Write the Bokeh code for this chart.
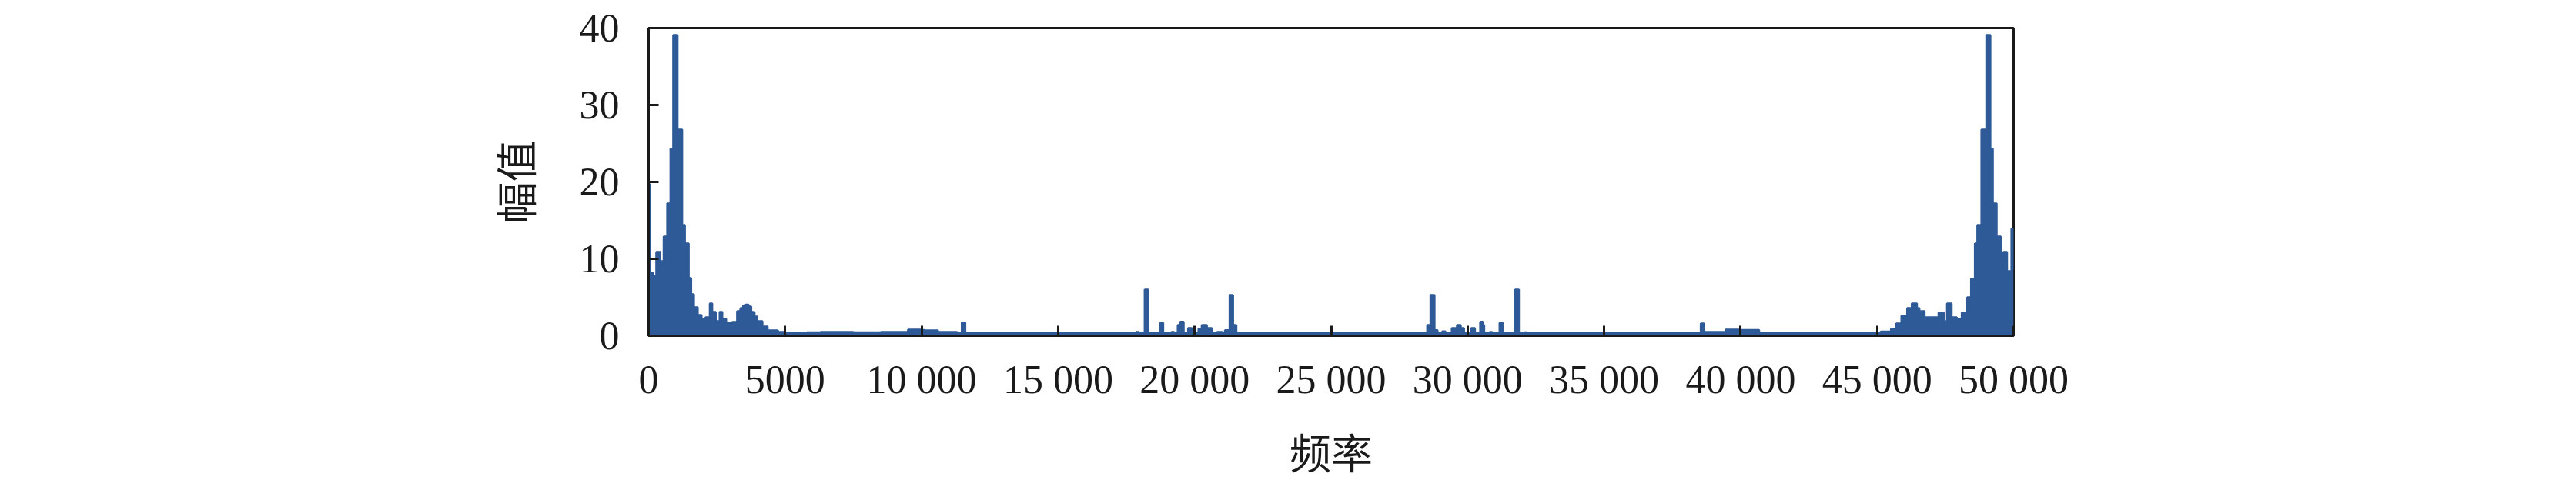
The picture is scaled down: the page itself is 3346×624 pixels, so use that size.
from bokeh.plotting import figure
from bokeh.models import Range1d, FixedTicker
from bokeh.embed import file_html
from bokeh.resources import INLINE

# spectrum: bin start frequency -> magnitude (step after)
freq = [0, 50, 150, 280, 430, 550, 680, 800, 900, 1060, 1230, 1330, 1470, 1560,
        1660, 1800, 1940, 2080, 2240, 2330, 2460, 2600, 2700, 2840, 3060, 3240,
        3360, 3460, 3550, 3660, 3760, 3880, 3980, 4170, 4360, 4740,
        5000, 5800, 6300, 7500, 8500, 9500, 10000, 10100, 10600, 11300, 11470,
        11600, 17850, 17950, 18170, 18300, 18740, 18850, 19150, 19250, 19380,
        19470, 19600, 19760, 19900, 20140, 20260, 20450, 20630, 20820, 21010,
        21110, 21280, 21410, 21530,
        28520, 28640, 28790, 28900, 29070, 29190, 29420, 29610, 29750, 29870,
        30130, 30270, 30460, 30560, 30610, 30810, 30900, 31170, 31290, 31740,
        31880, 32080, 32180, 38540, 38660, 39450, 40000, 40680, 45130, 45510,
        45700, 45890, 46100, 46270, 46460, 46550, 46740, 47250, 47440, 47560,
        47730, 47920, 48100, 48300, 48440, 48580, 48670, 48820, 49000, 49150,
        49240, 49380, 49530, 49620, 49760, 49920, 49980, 50000]
amp = [19.7, 8.2, 7.8, 10.9, 9.7, 12.9, 17.2, 24.3, 39.1, 26.8, 14.4, 12.0, 7.5, 5.4,
       3.7, 2.7, 2.2, 2.4, 4.2, 3.1, 1.9, 3.1, 2.2, 1.7, 1.8, 3.2,
       3.6, 3.9, 4.05, 3.8, 3.1, 2.5, 1.9, 1.2, 0.7, 0.5,
       0.4, 0.45, 0.5, 0.45, 0.5, 0.8, 0.75, 0.7, 0.5, 0.4, 1.7,
       0.35, 0.5, 0.35, 6.0, 0.35, 1.67, 0.35, 0.5, 0.35, 1.4,
       1.83, 0.35, 1.0, 0.35, 0.9, 1.4, 1.0, 0.35, 0.5, 0.35,
       0.73, 5.3, 1.4, 0.35,
       1.4, 5.3, 0.73, 0.35, 0.57, 0.35, 1.0, 1.4, 1.0, 0.35,
       1.0, 0.35, 1.83, 1.4, 0.35, 0.5, 0.35, 1.67, 0.35, 6.0,
       0.35, 0.45, 0.35, 1.6, 0.5, 0.8, 0.75, 0.43, 0.55, 0.9,
       1.6, 2.6, 3.6, 4.2, 3.6, 3.2, 2.4, 3.0, 1.9, 4.2,
       2.4, 2.2, 3.0, 5.0, 7.4, 12.0, 14.4, 26.8, 39.1, 24.3,
       17.2, 12.9, 9.7, 10.9, 8.4, 13.9, 8.7, 8.7]

x_ticks = [0, 5000, 10000, 15000, 20000, 25000, 30000, 35000, 40000, 45000, 50000]
x_labels = ["0", "5000", "10 000", "15 000", "20 000", "25 000", "30 000",
            "35 000", "40 000", "45 000", "50 000"]
y_ticks = [0, 10, 20, 30, 40]

BLUE = "#2e5a98"
SERIF = "Liberation Serif"
CJK = "Noto Sans CJK SC"

p = figure(width=3330, height=600, frame_width=1773, frame_height=400,
           min_border_left=842, min_border_top=36, min_border_right=715,
           min_border_bottom=164,
           x_range=Range1d(0, 50000), y_range=Range1d(0, 40),
           output_backend="svg", toolbar_location=None,
           x_axis_label="频率", y_axis_label="幅值")

p.varea_step(x=freq, y1=[0] * len(amp), y2=amp, step_mode="after",
             fill_color=BLUE)
p.step(x=freq, y=amp, mode="after", line_color=BLUE, line_width=2.5)

p.xgrid.visible = False
p.ygrid.visible = False
p.outline_line_color = "#1a1a1a"
p.outline_line_width = 3
p.outline_line_alpha = 1

p.xaxis.ticker = FixedTicker(ticks=x_ticks)
p.xaxis.major_label_overrides = {t: s for t, s in zip(x_ticks, x_labels)}
p.yaxis.ticker = FixedTicker(ticks=y_ticks)

for ax in (p.xaxis, p.yaxis):
    ax.axis_line_color = "#1a1a1a"
    ax.axis_line_width = 3
    ax.major_tick_line_color = "#1a1a1a"
    ax.major_tick_line_width = 3
    ax.major_tick_in = 13
    ax.major_tick_out = 0
    ax.minor_tick_line_color = None
    ax.major_label_text_font = SERIF
    ax.major_label_text_font_size = "52px"
    ax.major_label_text_color = "#1a1a1a"
    ax.axis_label_text_font = CJK
    ax.axis_label_text_font_size = "54px"
    ax.axis_label_text_font_style = "normal"
    ax.axis_label_text_color = "#1a1a1a"

p.yaxis.major_label_standoff = 38
p.yaxis.axis_label_standoff = 42
p.xaxis.major_label_standoff = 28
p.xaxis.axis_label_standoff = 22

open("out.html", "w").write(file_html(p, INLINE))
